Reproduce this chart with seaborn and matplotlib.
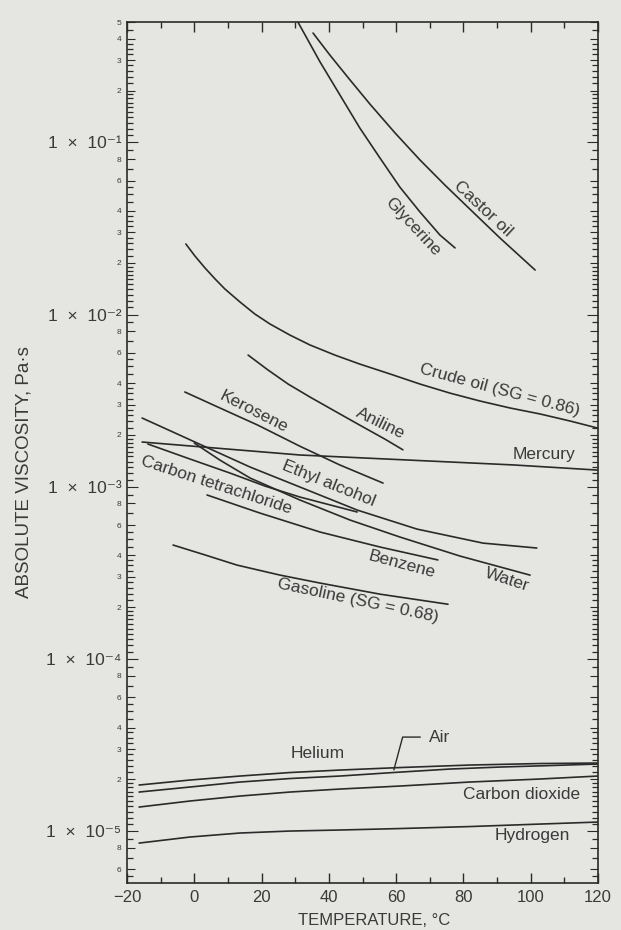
import matplotlib
matplotlib.use("Agg")
import matplotlib.pyplot as plt
import seaborn as sns
import pandas as pd

# temperature (deg C) and absolute viscosity (Pa*s)
castor_t = [35.3, 40.3, 46.3, 52.2, 59.7, 67.1, 74.5, 81.9, 90.9, 101.3]
castor_mu = [0.4315, 0.3216, 0.2303, 0.167, 0.1133, 0.079, 0.0565, 0.041, 0.0278, 0.01815]
glycerine_t = [30.8, 37.4, 43.3, 49.2, 55.2, 61.1, 67.1, 73.0, 77.5]
glycerine_mu = [0.5, 0.2928, 0.1884, 0.1212, 0.0811, 0.055, 0.0394, 0.029, 0.0244]
crude_t = [-2.5, 0.2, 3.2, 6.2, 9.1, 13.6, 18.0, 22.5, 28.4, 34.4, 41.8, 49.2,
           58.2, 67.1, 76.0, 84.9, 93.8, 102.7, 111.7, 120]
crude_mu = [0.0257, 0.02188, 0.01864, 0.01609, 0.01408, 0.01183, 0.01008, 0.00882,
            0.00761, 0.00666, 0.00582, 0.00516, 0.00452, 0.00395, 0.0035, 0.00315,
            0.00287, 0.00265, 0.00241, 0.00219]
aniline_t = [16.0, 21.9, 27.9, 34.4, 41.8, 49.2, 56.7, 62.0]
aniline_mu = [0.00582, 0.00477, 0.00395, 0.00332, 0.00275, 0.00228, 0.00189, 0.00164]
kerosene_t = [-2.8, 7.6, 18.9, 31.4, 43.3, 56.1]
kerosene_mu = [0.003552, 0.00287, 0.00228, 0.00172, 0.001338, 0.001051]
mercury_t = [-15.5, 31.4, 94.7, 120]
mercury_mu = [0.00182, 0.00153, 0.00134, 0.00125]
ethyl_t = [-15.5, -5.7, 4.1, 16.6, 31.4, 48.4, 66.2, 85.8, 101.8]
ethyl_mu = [0.002508, 0.002053, 0.00168, 0.001302, 0.000997, 0.000733, 0.000568,
            0.000471, 0.000441]
water_t = [0, 7.6, 16.6, 31.4, 46.3, 61.1, 79.0, 99.8]
water_mu = [0.001795, 0.00143, 0.001124, 0.000838, 0.000641, 0.000511, 0.000396, 0.000307]
ccl4_t = [-13.8, -1.3, 10.6, 21.0, 31.4, 48.4]
ccl4_mu = [0.001772, 0.00145, 0.001202, 0.00101, 0.000872, 0.000714]
benzene_t = [3.8, 19.5, 37.4, 55.2, 72.4]
benzene_mu = [0.000896, 0.000704, 0.000546, 0.000447, 0.000376]
gasoline_t = [-6.3, 3.2, 12.7, 25.5, 37.4, 55.2, 75.4]
gasoline_mu = [0.000459, 0.000402, 0.000351, 0.000307, 0.000276, 0.000238, 0.000208]
gas_t = [-16.4, -1.3, 13.6, 28.4, 43.3, 61.1, 81.9, 102.7, 120]
helium_mu = [1.854e-5, 1.982e-5, 2.091e-5, 2.191e-5, 2.265e-5, 2.342e-5, 2.422e-5,
             2.471e-5, 2.488e-5]
co2_mu = [1.381e-5, 1.497e-5, 1.6e-5, 1.688e-5, 1.757e-5, 1.829e-5, 1.93e-5,
          2.009e-5, 2.091e-5]
h2_mu = [8.53e-6, 9.25e-6, 9.76e-6, 1.002e-5, 1.016e-5, 1.036e-5, 1.064e-5,
         1.1e-5, 1.13e-5]
air_t = [-16.4, -1.3, 13.6, 28.4, 43.3, 59.1, 76.0, 90.9, 105.7, 120]
air_mu = [1.688e-5, 1.805e-5, 1.93e-5, 2.022e-5, 2.091e-5, 2.191e-5, 2.296e-5,
          2.358e-5, 2.405e-5, 2.455e-5]

x_major = [-20, 0, 20, 40, 60, 80, 100, 120]
x_minor = [-10, 10, 30, 50, 70, 90, 110]
decades = [1e-5, 1e-4, 1e-3, 1e-2, 1e-1]
decade_labels = ["1  ×  10⁻⁵", "1  ×  10⁻⁴", "1  ×  10⁻³", "1  ×  10⁻²", "1  ×  10⁻¹"]
digit_marks = [2, 3, 4, 6, 8]
minor_marks = [1.1, 1.2, 1.3, 1.4, 1.5, 1.6, 1.7, 1.8, 1.9, 2.2, 2.4, 2.6, 2.8,
               3.25, 3.5, 3.75, 4.5, 5, 5.5, 7, 9]

series = [
    ("Castor oil", castor_t, castor_mu), ("Glycerine", glycerine_t, glycerine_mu),
    ("Crude oil", crude_t, crude_mu), ("Aniline", aniline_t, aniline_mu),
    ("Kerosene", kerosene_t, kerosene_mu), ("Mercury", mercury_t, mercury_mu),
    ("Ethyl alcohol", ethyl_t, ethyl_mu), ("Water", water_t, water_mu),
    ("Carbon tetrachloride", ccl4_t, ccl4_mu), ("Benzene", benzene_t, benzene_mu),
    ("Gasoline", gasoline_t, gasoline_mu), ("Helium", gas_t, helium_mu),
    ("Air", air_t, air_mu), ("Carbon dioxide", gas_t, co2_mu),
    ("Hydrogen", gas_t, h2_mu),
]
df = pd.concat([pd.DataFrame({"fluid": n, "T": t, "mu": m}) for n, t, m in series])

sns.set_style("ticks")
plt.rcParams["font.family"] = ["Liberation Sans", "DejaVu Sans"]

bg = "#e5e5e2"
ink = "#2a2a2a"
txt = "#3a3a3a"

fig = plt.figure(figsize=(6.21, 9.30), dpi=100, facecolor=bg)
ax = fig.add_axes([0.2045, 0.0505, 0.7585, 0.9258], facecolor=bg)

sns.lineplot(data=df, x="T", y="mu", units="fluid", estimator=None, sort=False,
             color=ink, linewidth=1.2, ax=ax)

ax.set_yscale("log")
ax.set_xlim(-20, 120)
ax.set_ylim(5e-6, 5e-1)

# x ticks
ax.set_xticks(x_major)
ax.set_xticklabels(["−20" if v < 0 else str(v) for v in x_major], fontsize=12, color=txt)
ax.set_xticks(x_minor, minor=True)
ax.tick_params(axis="x", which="both", direction="in", top=True, bottom=True,
               colors=ink, labelcolor=txt, pad=5)
ax.tick_params(axis="x", which="major", length=7, width=1)
ax.tick_params(axis="x", which="minor", length=4, width=1)

# y ticks: decades + labelled digits as major, the rest as minor
ymaj, ylab, big = [], [], []
for k in range(-6, 0):
    d = 10.0 ** k
    if d in decades:
        ymaj.append(d)
        ylab.append(decade_labels[decades.index(d)])
        big.append(True)
    for m in digit_marks + ([5] if k == -1 else []):
        v = m * d
        if 5e-6 <= v <= 5.01e-1:
            ymaj.append(v)
            ylab.append(str(m))
            big.append(False)
ymin = [m * 10.0 ** k for k in range(-6, 0) for m in minor_marks
        if 5e-6 < m * 10.0 ** k < 5e-1 and not (k == -1 and m == 5)]
ax.set_yticks(ymaj)
ax.set_yticklabels(ylab)
ax.set_yticks(ymin, minor=True)
ax.yaxis.set_minor_formatter(plt.NullFormatter())
ax.tick_params(axis="y", which="both", direction="in", left=True, right=True,
               colors=ink, labelcolor=txt, pad=4)
ax.tick_params(axis="y", which="minor", length=4, width=0.9)
for tick, lab, b in zip(ax.yaxis.get_major_ticks(), ax.get_yticklabels(), big):
    tick.tick1line.set_markersize(8 if b else 6)
    tick.tick2line.set_markersize(8 if b else 6)
    lab.set_fontsize(12.5 if b else 6)

for s in ax.spines.values():
    s.set_visible(True)
    s.set_color(ink)
    s.set_linewidth(1.2)

ax.set_xlabel("TEMPERATURE, °C", fontsize=12, color=txt)
ax.xaxis.set_label_coords(0.525, -0.035)
ax.set_ylabel("ABSOLUTE VISCOSITY, Pa·s", fontsize=13.5, color=txt)
ax.yaxis.set_label_coords(-0.2, 0.477)

lab_kw = dict(fontsize=12.5, color=txt, ha="center", va="center", rotation_mode="anchor")
ax.text(85.8, 0.041, "Castor oil", rotation=-43, **lab_kw)
ax.text(65.0, 0.0325, "Glycerine", rotation=-47, **lab_kw)
ax.text(90.9, 0.00365, "Crude oil (SG = 0.86)", rotation=-15, **lab_kw)
ax.text(55.2, 0.00232, "Aniline", rotation=-26, **lab_kw)
ax.text(103.9, 0.00153, "Mercury", rotation=0, **lab_kw)
ax.text(17.7, 0.00272, "Kerosene", rotation=-27, **lab_kw)
ax.text(40, 0.00105, "Ethyl alcohol", rotation=-22, **lab_kw)
ax.text(6.7, 0.00102, "Carbon tetrachloride", rotation=-18, **lab_kw)
ax.text(61.7, 0.000352, "Benzene", rotation=-15, **lab_kw)
ax.text(92.9, 0.000288, "Water", rotation=-18, **lab_kw)
ax.text(48.7, 0.000217, "Gasoline (SG = 0.68)", rotation=-12, **lab_kw)
ax.text(36.8, 2.84e-5, "Helium", **lab_kw)
ax.text(73, 3.52e-5, "Air", **lab_kw)
ax.text(97.4, 1.64e-5, "Carbon dioxide", **lab_kw)
ax.text(100.4, 9.38e-6, "Hydrogen", **lab_kw)
ax.annotate("", xy=(59.1, 2.19e-5), xytext=(68, 3.52e-5),
            arrowprops=dict(arrowstyle="-", color=ink, lw=1,
                            connectionstyle="angle,angleA=0,angleB=75,rad=0"))

fig.savefig("out.png", dpi=100, facecolor=bg)
